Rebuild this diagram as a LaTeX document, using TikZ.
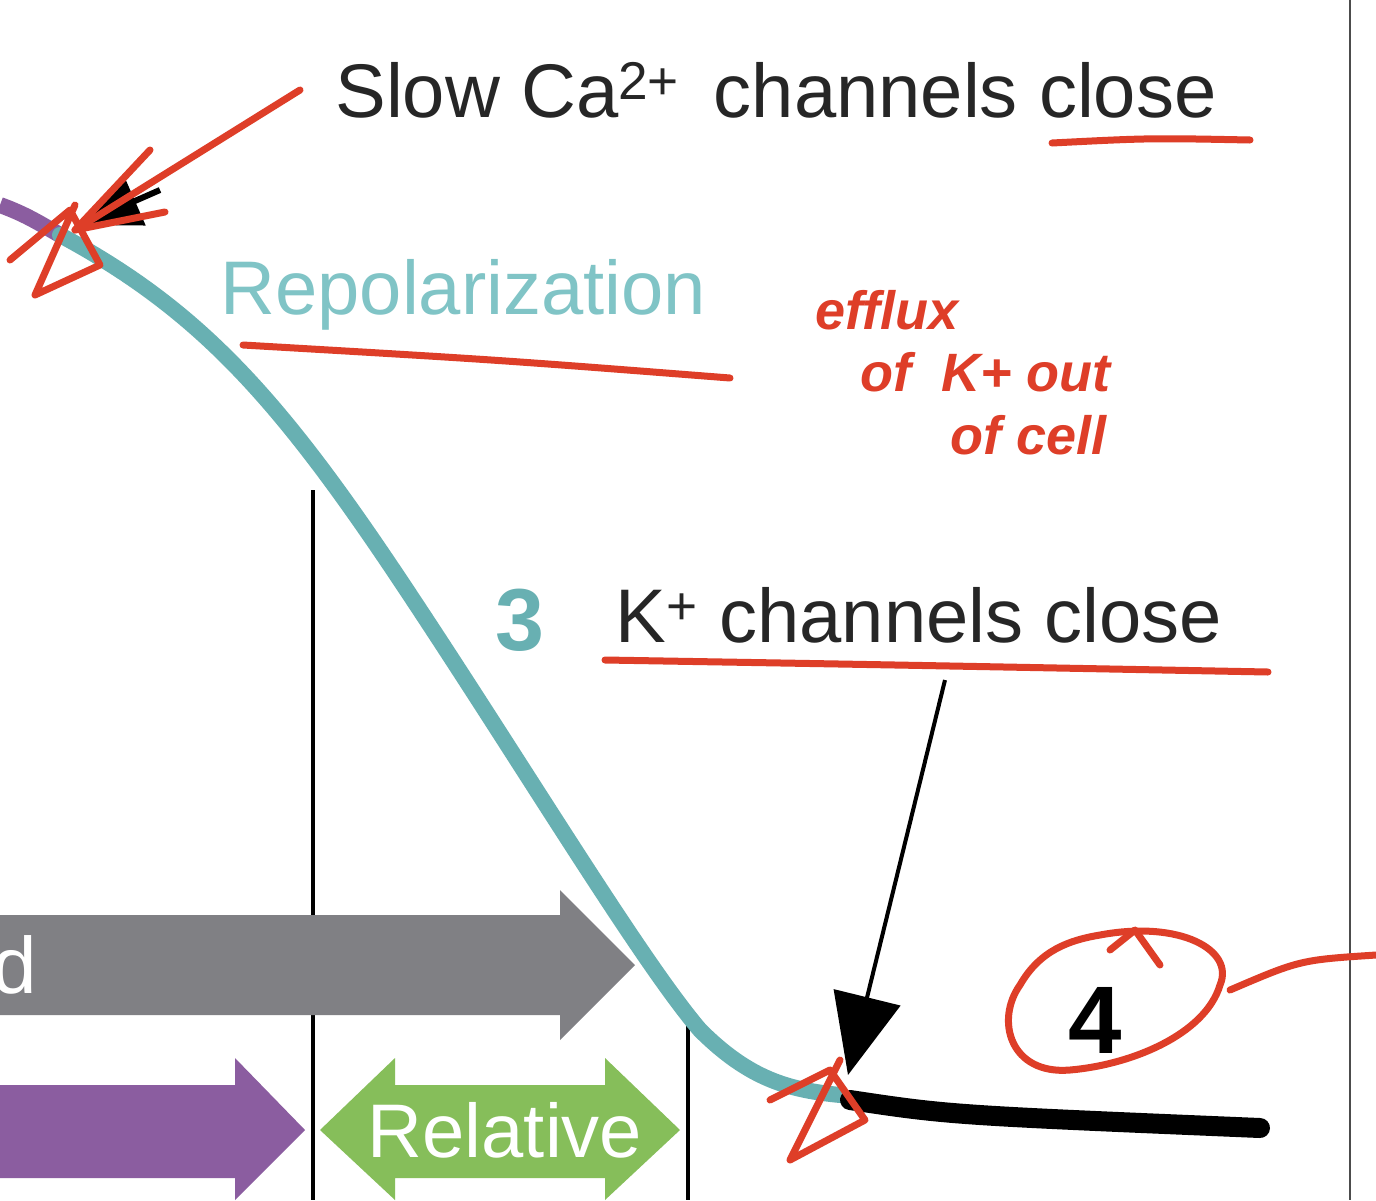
\documentclass[tikz,border=0pt]{standalone}
\usepackage{fontspec}
\setmainfont{Liberation Sans}
\usetikzlibrary{arrows.meta,shapes.arrows}
\definecolor{teal1}{RGB}{104,176,178}
\definecolor{tealL}{RGB}{128,196,198}
\definecolor{purp}{RGB}{139,93,160}
\definecolor{grayA}{RGB}{128,128,132}
\definecolor{greenA}{RGB}{134,190,90}
\definecolor{redA}{RGB}{222,62,40}
\tikzset{lbl/.style={font=\fontsize{38}{44}\selectfont,text=black!85,inner sep=0},
 hand/.style={font=\fontsize{27}{27}\selectfont\itshape\bfseries,text=redA,inner sep=0},
 red/.style={draw=redA,line width=3.5pt,line cap=round,line join=round}}
\begin{document}
\begin{tikzpicture}[x=0.5pt,y=-0.5pt]
\useasboundingbox (0,0) rectangle (1376,1200);
\fill[white] (0,0) rectangle (1376,1200);
% vertical lines
\draw[black!70,line width=1pt] (1350,0) -- (1350,1200);
\draw[black,line width=2pt] (313,490) -- (313,1200);
\draw[black,line width=2pt] (688,1025) -- (688,1200);
% bars
\fill[grayA] (0,915) -- (560,915) -- (560,890) -- (635,965) -- (560,1040) -- (560,1015) -- (0,1015) -- cycle;
\node[font=\fontsize{40}{44}\selectfont,text=white,anchor=west,inner sep=0] (d) at (-8,965) {d};
\fill[purp] (0,1085) -- (235,1085) -- (235,1058) -- (305,1130) -- (235,1200) -- (235,1178) -- (0,1178) -- cycle;
\fill[greenA] (320,1130) -- (395,1058) -- (395,1085) -- (605,1085) -- (605,1058) -- (680,1130) -- (605,1200) -- (605,1178) -- (395,1178) -- (395,1200) -- cycle;
\node[font=\fontsize{38}{40}\selectfont,text=white,inner sep=0] (rel) at (505,1130) {Relative};
% curves
\draw[purp,line width=8pt] (0,205) to[out=-20,in=150] (60,235);
\draw[teal1,line width=8pt,line cap=round] (60,235) .. controls (200,310) and (280,400) .. (400,580) .. controls (520,760) and (640,960) .. (700,1030) .. controls (750,1080) and (790,1090) .. (840,1095);
\draw[black,line width=10pt,line cap=round] (850,1100) .. controls (950,1115) .. (1260,1128);
% labels
\node[lbl,anchor=west] (slow) at (335,90) {Slow Ca\textsuperscript{2+}\, channels close};
\node[lbl,anchor=west,text=tealL] (rep) at (220,295) {Repolarization};
\node[font=\fontsize{44}{44}\selectfont\bfseries,text=teal1,inner sep=0] (three) at (520,620) {3};
\node[lbl,anchor=west] (kc) at (615,615) {K\textsuperscript{+} channels close};
\node[font=\fontsize{48}{48}\selectfont\bfseries,inner sep=0] (four) at (1095,1020) {4};
\coordinate (peak) at (80,225);
\coordinate (trough) at (848,1075);
\coordinate (ks) at (945,680);
\draw[black,line width=2pt,-{Triangle[length=40,width=34]}] (ks) -- (trough);
\draw[black,line width=3pt,-{Triangle[length=30,width=26]}] (160,190) -- (peak);
% red annotations
\draw[red] (1052,143) .. controls (1150,138) .. (1250,140);
\draw[red] (243,345) .. controls (500,360) .. (730,378);
\draw[red] (605,660) .. controls (900,665) .. (1268,672);
\draw[red] (300,90) -- (75,230);
\draw[red] (150,150) -- (75,230) -- (165,212);
\draw[red] (10,260) -- (70,210) -- (100,265) -- (35,295) -- (75,205);
\draw[red] (770,1100) -- (830,1070) -- (865,1120) -- (790,1160) -- (840,1060);
\draw[red] (1100,935) .. controls (1180,920) and (1235,950) .. (1220,985) .. controls (1205,1035) and (1130,1065) .. (1070,1070) .. controls (1010,1075) and (995,1020) .. (1020,985) .. controls (1040,950) and (1070,940) .. (1100,935);
\draw[red] (1110,950) -- (1135,930) -- (1160,965);
\draw[red] (1230,990) .. controls (1300,960) .. (1376,955);
\node[hand,anchor=west] (e1) at (815,310) {efflux};
\node[hand,anchor=west] (e2) at (860,372) {of\ \ K+ out};
\node[hand,anchor=west] (e3) at (950,435) {of cell};
\end{tikzpicture}
\end{document}
